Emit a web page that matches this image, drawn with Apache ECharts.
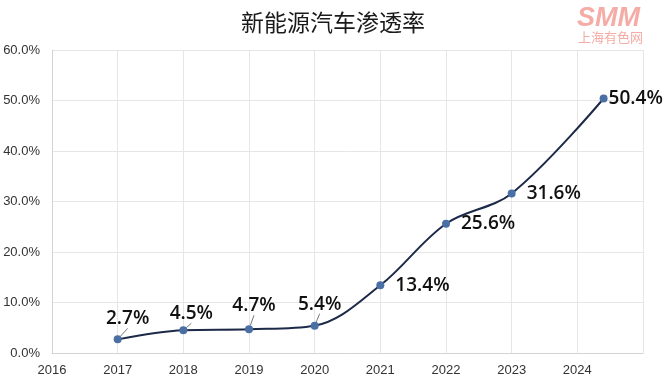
<!DOCTYPE html>
<html>
<head>
<meta charset="utf-8">
<script src="https://cdn.jsdelivr.net/npm/echarts@6/dist/echarts.min.js"></script>
<style>
html,body{margin:0;padding:0;background:#fff;}
#chart{width:664px;height:387px;}
</style>
</head>
<body>
<div id="chart"></div>
<script>
var titleText = '新能源汽车渗透率';
var years = [2017, 2018, 2019, 2020, 2021, 2022, 2023, 2024.4];
var penetration = [2.7, 4.5, 4.7, 5.4, 13.4, 25.6, 31.6, 50.4];
var xTickLabels = ['2016','2017','2018','2019','2020','2021','2022','2023','2024'];

var chart = echarts.init(document.getElementById('chart'));
var seriesData = years.map(function (y, i) { return [y, penetration[i]]; });

var layoutOffsets = [
  {dx: 10, dy: 1}, {dx: 8, dy: 5}, {dx: 5, dy: -2}, {dx: 5, dy: 0}
];

var option = {
  backgroundColor: '#ffffff',
  animation: false,
  title: {
    text: titleText,
    left: 328, top: 6, textAlign: 'center',
    textStyle: {fontFamily: 'Noto Sans CJK SC', fontSize: 23, fontWeight: 'normal', color: '#1a1a1a'}
  },
  graphic: [
    {type: 'text', left: 577, top: 5, style: {text: 'SMM', font: 'italic 900 27px "Liberation Sans"', fill: '#f5aca6'}},
    {type: 'text', left: 578, top: 31, style: {text: '上海有色网', font: '13px "Noto Sans CJK SC"', fill: '#f5aca6'}}
  ],
  grid: {left: 52, right: 21, top: 50, bottom: 34},
  xAxis: {
    type: 'value', min: 2016, max: 2025, interval: 1,
    axisLine: {show: true, lineStyle: {color: '#d4d4d4'}},
    axisTick: {show: false},
    splitLine: {show: true, lineStyle: {color: '#e6e6e6'}},
    axisLabel: {
      margin: 11, fontSize: 13, color: '#333', fontFamily: 'Liberation Sans',
      formatter: function (v) { var i = Math.round(v) - 2016; return xTickLabels[i] || ''; }
    }
  },
  yAxis: {
    type: 'value', min: 0, max: 60, interval: 10,
    axisLine: {show: true, lineStyle: {color: '#d4d4d4'}},
    axisTick: {show: false},
    splitLine: {show: true, lineStyle: {color: '#e6e6e6'}},
    axisLabel: {
      margin: 12, fontSize: 13, color: '#333', fontFamily: 'Liberation Sans',
      formatter: function (v) { return v.toFixed(1) + '%'; }
    }
  },
  series: [{
    type: 'line',
    data: seriesData,
    smooth: 0.35,
    symbol: 'circle', symbolSize: 8,
    lineStyle: {color: '#1c2a48', width: 2},
    itemStyle: {color: '#4a6fa5'},
    label: {
      show: true, fontSize: 19, color: '#111', fontFamily: 'Open Sans', fontWeight: 600,
      formatter: function (p) { return p.value[1].toFixed(1) + '%'; },
      position: 'right', distance: 11
    },
    labelLine: {show: true, lineStyle: {color: '#777', width: 1}},
    labelLayout: function (p) {
      if (p.dataIndex < 4) {
        var o = layoutOffsets[p.dataIndex];
        var r = p.labelRect;
        return {x: r.x, y: r.y, dx: o.dx, dy: o.dy};
      }
      return {};
    }
  }]
};

option.series[0].data = seriesData.map(function (d, i) {
  if (i < 4) return {value: d, label: {position: 'top', distance: 8}};
  if (i === 7) return {value: d, label: {position: 'right', distance: 1}, labelLine: {show: false}};
  return {value: d, labelLine: {show: false}};
});

chart.setOption(option);
</script>
</body>
</html>
